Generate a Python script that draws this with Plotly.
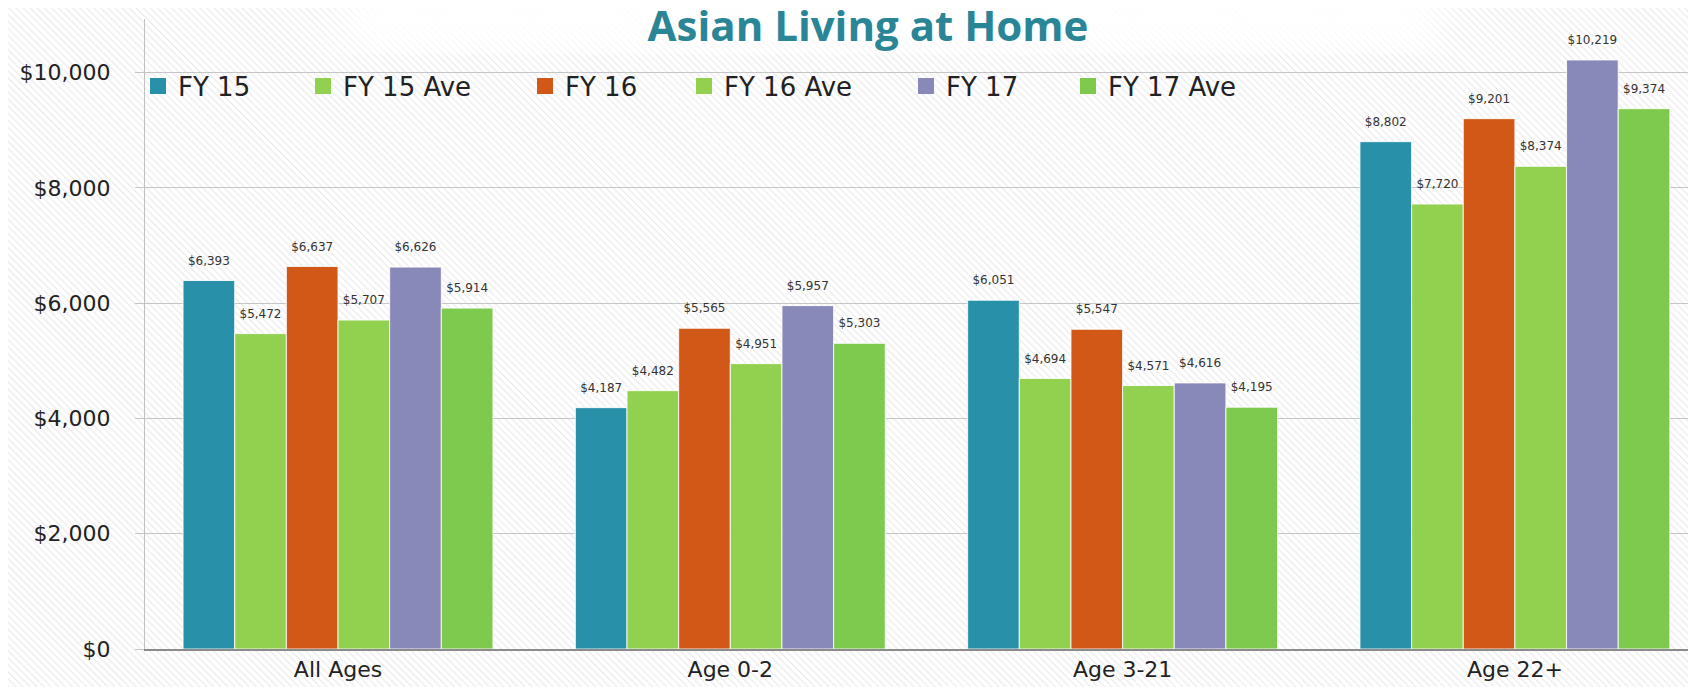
import base64
import plotly.graph_objects as go

categories = ["All Ages", "Age 0-2", "Age 3-21", "Age 22+"]
series_names = ["FY 15", "FY 15 Ave", "FY 16", "FY 16 Ave", "FY 17", "FY 17 Ave"]
fy15 = [6393, 4187, 6051, 8802]
fy15_ave = [5472, 4482, 4694, 7720]
fy16 = [6637, 5565, 5547, 9201]
fy16_ave = [5707, 4951, 4571, 8374]
fy17 = [6626, 5957, 4616, 10219]
fy17_ave = [5914, 5303, 4195, 9374]
series_values = [fy15, fy15_ave, fy16, fy16_ave, fy17, fy17_ave]
colors = ["#2990aa", "#92d150", "#d15817", "#92d150", "#8889b8", "#7dca4e"]
legend_left_px = [130, 295, 517, 676, 898, 1060]

W, H = 1696, 687
L, R, T, B = 137, 0, 11, 46
pw, ph = W - L - R, H - T - B

FONT = "DejaVu Sans"

# faint diagonal hatch background
svg = f"""<svg xmlns='http://www.w3.org/2000/svg' width='{W}' height='{H}'>
<defs>
<pattern id='p' width='5' height='5' patternUnits='userSpaceOnUse' patternTransform='rotate(-45)'>
<rect width='5' height='5' fill='#ffffff'/>
<rect width='1.2' height='5' fill='#ebebeb'/>
</pattern>
<filter id='b'><feGaussianBlur stdDeviation='18'/></filter>
</defs>
<rect width='{W}' height='{H}' fill='url(#p)'/>
<rect x='340' y='-20' width='1090' height='60' fill='#ffffff' filter='url(#b)'/>
</svg>"""
src = "data:image/svg+xml;base64," + base64.b64encode(svg.encode()).decode()

fig = go.Figure()
for i, (name, vals, col) in enumerate(zip(series_names, series_values, colors)):
    fig.add_trace(go.Bar(
        x=categories, y=vals, name=name, showlegend=False,
        marker=dict(color=col, line=dict(color="rgba(255,255,255,0.85)", width=1)),
    ))
for i, (name, vals, col) in enumerate(zip(series_names, series_values, colors)):
    # value labels, grouped to sit over each bar
    fig.add_trace(go.Scatter(
        x=categories, y=vals, mode="markers+text", showlegend=False,
        marker=dict(size=19, color="rgba(0,0,0,0)"),
        texttemplate="$%{y:,}", textposition="top center",
        textfont=dict(family=FONT, size=12, color="#333333"),
        cliponaxis=False, hoverinfo="skip",
        offsetgroup=f"g{i}", alignmentgroup="labels",
    ))
for i, (name, col) in enumerate(zip(series_names, colors)):
    key = "legend" if i == 0 else f"legend{i+1}"
    fig.add_trace(go.Scatter(
        x=[None], y=[None], mode="markers", name=name, showlegend=True,
        marker=dict(symbol="square", size=17, color=col),
        legend=key, offsetgroup=f"g{i}", alignmentgroup="labels",
    ))

legends = {}
for i, px in enumerate(legend_left_px):
    key = "legend" if i == 0 else f"legend{i+1}"
    xp = max(px, L)
    legends[key] = dict(
        x=(xp - L) / pw, y=1 - (78 - T) / ph, xref="paper", yref="paper",
        xanchor="left", yanchor="middle", orientation="h",
        indentation=max(px - L, -15) if px < L else 0,
        bgcolor="rgba(0,0,0,0)", borderwidth=0, itemsizing="trace",
        font=dict(family=FONT, size=26, color="#222222"),
    )

fig.update_layout(
    width=W, height=H,
    margin=dict(l=L, r=R, t=T, b=B, pad=0),
    paper_bgcolor="white", plot_bgcolor="rgba(0,0,0,0)",
    title=dict(text="<b>Asian Living at Home</b>", x=860 / W, y=1 - 18 / H,
               xref="container", yref="container", xanchor="center", yanchor="middle",
               font=dict(family="Open Sans", size=42, color="#2a8596")),
    barmode="group", bargap=0.21, bargroupgap=0,
    scattermode="group", scattergap=0.21,
    showlegend=True,
    images=[dict(source=src, xref="paper", yref="paper", x=-L / pw, y=1 + T / ph,
                 sizex=W / pw, sizey=H / ph, sizing="stretch", layer="below",
                 xanchor="left", yanchor="top")],
    **legends,
)
fig.update_xaxes(range=[-0.492, 3.482], showgrid=False, showline=True,
                 linecolor="#8c8c8c", linewidth=2,
                 ticks="", tickfont=dict(family=FONT, size=22, color="#222222"))
fig.update_yaxes(range=[0, 10930], dtick=2000, tickprefix="$", tickformat=",",
                 showgrid=True, gridcolor="#c6c6c6", gridwidth=1,
                 showline=True, linecolor="#c0c0c0", linewidth=1,
                 ticks="outside", ticklen=9, tickcolor="#c6c6c6",
                 ticklabelstandoff=20, zeroline=False,
                 tickfont=dict(family=FONT, size=22, color="#222222"))

fig.write_html("out.html")
